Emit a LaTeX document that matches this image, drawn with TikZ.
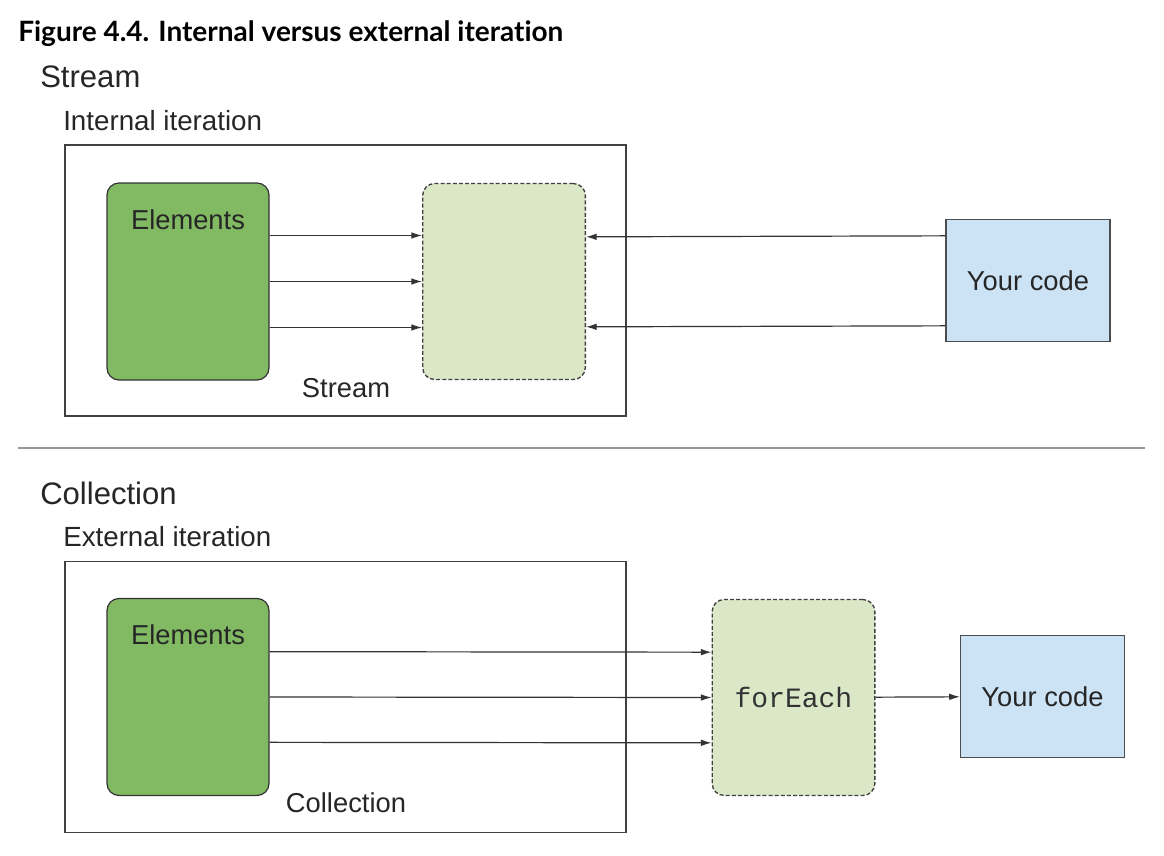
\documentclass[tikz,border=0pt]{standalone}
\usepackage{fontspec}
\setmainfont{Liberation Sans}
\setmonofont{Liberation Mono}
\newfontfamily\titlefont[Ligatures=NoCommon]{Lato}
\usetikzlibrary{arrows.meta,positioning}

\definecolor{elemgreen}{RGB}{130,186,100}
\definecolor{palegreen}{RGB}{218,232,200}
\definecolor{codeblue}{RGB}{204,226,245}
\definecolor{rulegray}{RGB}{150,150,150}

\begin{document}
\begin{tikzpicture}
	% Styles
	[
	x=0.75pt,y=-0.75pt,
	frame/.style={draw=black!75,line width=0.9pt,inner sep=0pt,minimum width=420.75pt,minimum height=203.25pt},
	elements/.style={draw=black!80,fill=elemgreen,line width=0.9pt,rounded corners=9pt,inner sep=0pt,minimum width=121.5pt,minimum height=147.75pt},
	holder/.style={draw=black!75,fill=palegreen,line width=1pt,dash pattern=on 3pt off 1.6pt,rounded corners=9pt,inner sep=0pt,minimum width=122pt,minimum height=147pt},
	yourcode/.style={draw=black!70,fill=codeblue,line width=0.9pt,inner sep=0pt,minimum width=123pt,minimum height=91pt},
	txt/.style={font=\fontsize{20.5pt}{24pt}\selectfont,inner sep=0pt,text=black!85},
	heading/.style={font=\fontsize{23.3pt}{27pt}\selectfont,inner sep=0pt,anchor=base west,text=black!85},
	subheading/.style={font=\fontsize{20.8pt}{24pt}\selectfont,inner sep=0pt,anchor=base west,text=black!85},
	arr/.style={draw=black!80,line width=0.9pt,-{Latex[length=8pt,width=5pt]}},
	]
	\useasboundingbox (0,0) rectangle (1164,856);

	% Headings
	\node at (18,42)	(title)	[anchor=base west,inner sep=0pt,font=\titlefont\bfseries\fontsize{21pt}{25pt}\selectfont] {Figure 4.4. Internal versus external iteration};
	\node at (40,88)	(hstream)	[heading] {Stream};
	\node at (63,130)	(hinternal)	[subheading] {Internal iteration};
	\node at (40,504)	(hcollection)	[heading] {Collection};
	\node at (63,546)	(hexternal)	[subheading] {External iteration};

	% Stream nodes
	\node at (345.5,280.5)	(frame1)	[frame] {};
	\node at (188,281.5)	(el1)	[elements] {};
	\node (el1text)	[txt,below=20pt of el1.north] {Elements};
	\node at (504,281.5)	(stream1)	[holder] {};
	\node at (1028,280.5)	(code1)	[yourcode] {};
	\node at (1028,281)	(code1text)	[txt] {Your code};
	\node at (346,388)	(stream1text)	[txt] {Stream};

	% Separator
	\coordinate (sepL) at (18,448);
	\coordinate (sepR) at (1145,448);
	\draw[rulegray,line width=1.2pt] (sepL) -- (sepR);

	% Collection nodes
	\node at (345.5,697)	(frame2)	[frame] {};
	\node at (188,697)	(el2)	[elements] {};
	\node (el2text)	[txt,below=20pt of el2.north] {Elements};
	\node at (793.5,697.5)	(each2)	[holder,font=\ttfamily\fontsize{21pt}{24pt}\selectfont,text=black!80] {forEach};
	\node at (1042.5,696.5)	(code2)	[yourcode,txt,minimum width=123pt,minimum height=91pt,inner sep=0pt] {Your code};
	\node at (346,803)	(coll2text)	[txt] {Collection};

	% Connections
	\foreach \dy in {-34.5pt,0pt,34.5pt}
		\draw[arr] ([yshift=\dy]el1.east) -- ([yshift=\dy]stream1.west);
	\draw[arr] ([yshift=33.5pt]code1.west) -- ([yshift=33.5pt]stream1.east);
	\draw[arr] ([yshift=-34pt]code1.west) -- ([yshift=-34pt]stream1.east);
	\foreach \dy in {34pt,0pt,-34pt}
		\draw[arr] ([yshift=\dy]el2.east) -- ([yshift=\dy]each2.west);
	\draw[arr] (each2) -- (code2);

\end{tikzpicture}
\end{document}
